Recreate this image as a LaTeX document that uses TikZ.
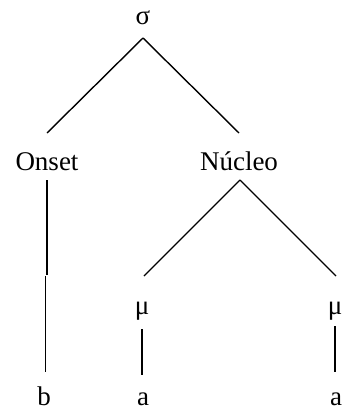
\documentclass[tikz,border=0pt]{standalone}
\usepackage{fontspec}
\setmainfont{Liberation Serif}
\begin{document}
\begin{tikzpicture}[x=1pt,y=-1pt,
  lbl/.style={inner sep=0pt, anchor=base, font=\fontsize{27}{31}\selectfont},
  branch/.style={line width=1.4pt, line cap=butt}]
\useasboundingbox (0,0) rectangle (344,412);
% syllable tree nodes
\node[lbl] (sigma)  at (143,25)  {σ};
\node[lbl] (onset)  at (47,170)  {Onset};
\node[lbl] (nucleo) at (239,170) {Núcleo};
\node[lbl] (mu1)    at (142,314) {μ};
\node[lbl] (mu2)    at (335,314) {μ};
\node[lbl] (b)      at (44,405)  {b};
\node[lbl] (a1)     at (143,405) {a};
\node[lbl] (a2)     at (336,405) {a};
% joint in the onset stem
\coordinate (j1) at (47,275);
\coordinate (j2) at (45.5,276);
% branches
\draw[branch] ([yshift=-13pt]sigma.base) -- ([yshift=37pt]onset.base);
\draw[branch] ([yshift=-13pt]sigma.base) -- ([yshift=37pt]nucleo.base);
\draw[branch] ([yshift=-10pt]onset.base) -- (j1);
\draw[branch] (j2) -- ([xshift=1.5pt,yshift=33pt]b.base);
\draw[branch] ([xshift=1pt,yshift=-10pt]nucleo.base) -- ([xshift=2pt,yshift=38pt]mu1.base);
\draw[branch] ([xshift=1pt,yshift=-10pt]nucleo.base) -- ([xshift=1pt,yshift=38pt]mu2.base);
\draw[branch] ([yshift=-15pt]mu1.base) -- ([xshift=-1pt,yshift=30pt]a1.base);
\draw[branch] ([yshift=-12pt]mu2.base) -- ([xshift=-1pt,yshift=33pt]a2.base);
\end{tikzpicture}
\end{document}
